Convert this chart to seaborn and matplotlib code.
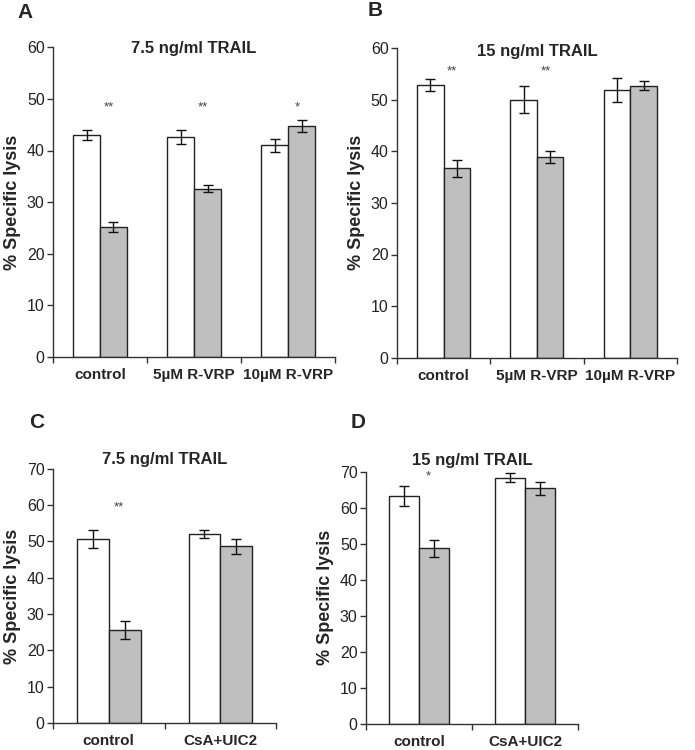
import matplotlib
matplotlib.use("Agg")
import matplotlib.pyplot as plt
import seaborn as sns
import pandas as pd
import numpy as np

# === DATA ===
COND_AB = ["control", "5\u00b5M R-VRP", "10\u00b5M R-VRP"]
COND_CD = ["control", "CsA+UIC2"]
TREAT = ["untreated", "treated"]

A_white = [43.0, 42.6, 41.0]
A_white_err = [1.0, 1.3, 1.2]
A_gray = [25.2, 32.6, 44.7]
A_gray_err = [1.0, 0.7, 1.2]
A_stars = ["**", "**", "*"]

B_white = [52.8, 50.0, 51.9]
B_white_err = [1.2, 2.6, 2.3]
B_gray = [36.7, 38.9, 52.7]
B_gray_err = [1.6, 1.1, 0.9]
B_stars = ["**", "**", ""]

C_white = [50.7, 52.0]
C_white_err = [2.5, 1.2]
C_gray = [25.6, 48.6]
C_gray_err = [2.4, 2.0]
C_stars = ["**", ""]

D_white = [63.2, 68.4]
D_white_err = [2.8, 1.2]
D_gray = [48.7, 65.4]
D_gray_err = [2.4, 1.8]
D_stars = ["*", ""]

AX_COLOR = "#333333"


def draw_panel(ax, conds, white, white_err, gray, gray_err, stars, star_y, ymax, title, title_y):
    df = pd.DataFrame({
        "cond": conds * 2,
        "treat": [TREAT[0]] * len(conds) + [TREAT[1]] * len(conds),
        "val": white + gray,
        "err": white_err + gray_err,
    })
    sns.barplot(data=df, x="cond", y="val", hue="treat", order=conds, hue_order=TREAT,
                palette=["white", "#bfbfbf"], edgecolor="#222222", linewidth=1.0,
                width=0.57, gap=0, errorbar=None, legend=False, ax=ax)

    # error bars from bar centres
    bars = ax.patches[:len(df)]
    xs = [b.get_x() + b.get_width() / 2 for b in bars]
    hs = [b.get_height() for b in bars]
    ax.errorbar(xs, hs, yerr=df["err"].values, fmt="none", ecolor="#111111",
                elinewidth=1.0, capsize=3.5, capthick=1.0)

    # significance stars above gray bars
    for i, s in enumerate(stars):
        if s:
            ax.text(xs[len(conds) + i] - 0.05, star_y, s, ha="center", va="center",
                    fontsize=9.5, color="#444444")

    n = len(conds)
    ax.set_xlim(-0.5, n - 0.5)
    ax.set_ylim(0, ymax)
    ax.set_yticks(np.arange(0, ymax + 1, 10))
    ax.set_xticks(range(n))
    ax.set_xticklabels(conds, fontweight="bold", fontsize=11)
    ax.set_xticks(np.arange(-0.5, n, 1.0), minor=True)
    ax.tick_params(axis="x", which="major", bottom=True, length=0, pad=8)
    ax.tick_params(axis="x", which="minor", bottom=True, length=4, width=1.0,
                   direction="out", color=AX_COLOR)
    ax.tick_params(axis="y", left=True, length=4, width=1.0, direction="out",
                   labelsize=11.5, color=AX_COLOR, labelcolor="#222222", pad=2)
    ax.set_xlabel("")
    ax.set_ylabel("% Specific lysis", fontweight="bold", fontsize=13, labelpad=4)
    for side in ["top", "right"]:
        ax.spines[side].set_visible(False)
    for side in ["left", "bottom"]:
        ax.spines[side].set_color(AX_COLOR)
        ax.spines[side].set_linewidth(1.0)
    ax.text(0.5, title_y, title, transform=ax.transAxes, ha="center", va="center",
            fontweight="bold", fontsize=12)


sns.set_style("white")
plt.rcParams['font.family'] = ['Liberation Sans', 'DejaVu Sans']

fig = plt.figure(figsize=(6.95, 7.5), dpi=100)
axA = fig.add_axes([0.0763, 0.524, 0.406, 0.413])
axB = fig.add_axes([0.571, 0.523, 0.403, 0.413])
axC = fig.add_axes([0.0763, 0.036, 0.321, 0.339])
axD = fig.add_axes([0.5266, 0.035, 0.305, 0.336])

draw_panel(axA, COND_AB, A_white, A_white_err, A_gray, A_gray_err, A_stars, 48.4, 60,
           "7.5 ng/ml TRAIL", 0.995)
draw_panel(axB, COND_AB, B_white, B_white_err, B_gray, B_gray_err, B_stars, 55.5, 60,
           "15 ng/ml TRAIL", 0.99)
draw_panel(axC, COND_CD, C_white, C_white_err, C_gray, C_gray_err, C_stars, 59.4, 70,
           "7.5 ng/ml TRAIL", 1.035)
draw_panel(axD, COND_CD, D_white, D_white_err, D_gray, D_gray_err, D_stars, 68.6, 70,
           "15 ng/ml TRAIL", 1.045)

for lbl, x, y in [("A", 0.036, 0.984), ("B", 0.540, 0.986), ("C", 0.053, 0.436), ("D", 0.516, 0.436)]:
    fig.text(x, y, lbl, ha="center", va="center", fontweight="bold", fontsize=15)

fig.savefig("out.png", dpi=100)
